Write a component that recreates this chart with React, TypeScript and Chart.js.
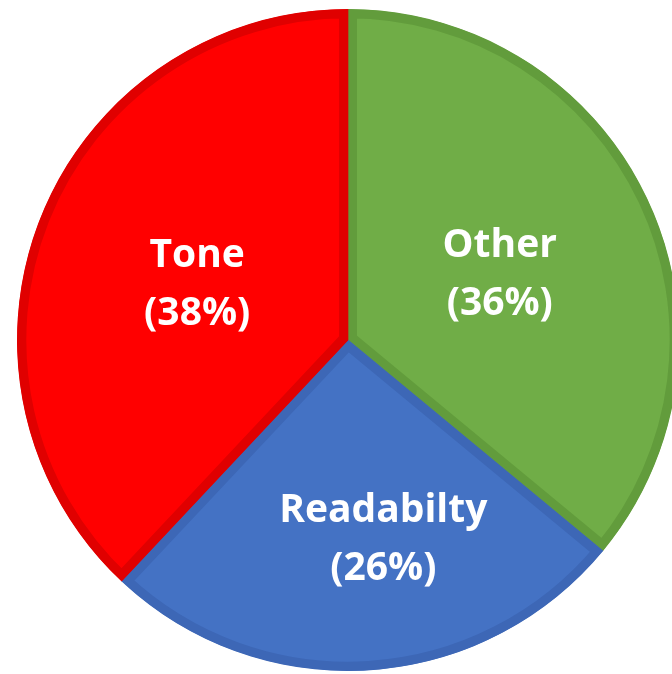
import React, { useEffect, useRef } from "react";
import { Chart, registerables, Plugin } from "chart.js";

Chart.register(...registerables);

// Slices in drawing order (clockwise from 12 o'clock)
const categories = ["Other", "Readabilty", "Tone"];
const shares = [36, 26, 38];
const fillColors = ["#70AD47", "#4472C4", "#FF0000"];
const edgeColors = ["#629C3C", "#3D67B6", "#E00000"];

// Where each label sits: fraction of the radius along the slice's mid-angle, plus a nudge in px
const labelRadius = [0.5, 0.59, 0.49];
const labelNudgeX = [2, 23, 0];

const sliceLabels: Plugin<"pie"> = {
  id: "sliceLabels",
  afterDatasetsDraw(chart) {
    const ctx = chart.ctx;
    const meta = chart.getDatasetMeta(0);
    ctx.save();
    ctx.fillStyle = "#FFFFFF";
    ctx.font = "bold 39px 'Open Sans', Lato, sans-serif";
    ctx.textAlign = "center";
    ctx.textBaseline = "middle";
    meta.data.forEach((el: any, i: number) => {
      const { x, y, startAngle, endAngle, outerRadius } = el.getProps(
        ["x", "y", "startAngle", "endAngle", "outerRadius"],
        true
      );
      const mid = (startAngle + endAngle) / 2;
      const r = outerRadius * labelRadius[i];
      const cx = x + Math.cos(mid) * r + labelNudgeX[i];
      const cy = y + Math.sin(mid) * r + 5;
      const value = chart.data.datasets[0].data[i] as number;
      ctx.fillText(String(chart.data.labels![i]), cx, cy - 29);
      ctx.fillText(`(${value}%)`, cx, cy + 29);
    });
    ctx.restore();
  },
};

export default function App() {
  const canvasRef = useRef<HTMLCanvasElement>(null);

  useEffect(() => {
    if (!canvasRef.current) return;
    const chart = new Chart(canvasRef.current, {
      type: "pie",
      data: {
        labels: categories,
        datasets: [
          {
            data: shares,
            backgroundColor: fillColors,
            borderColor: edgeColors,
            borderWidth: 9,
            borderAlign: "inner",
            hoverOffset: 0,
            offset: 0,
          },
        ],
      },
      options: {
        animation: false,
        responsive: true,
        maintainAspectRatio: false,
        layout: { padding: 0 },
        events: [],
        plugins: {
          legend: { display: false },
          tooltip: { enabled: false },
        },
      },
      plugins: [sliceLabels],
    });
    return () => chart.destroy();
  }, []);

  return (
    <div
      style={{
        position: "fixed",
        left: 0,
        top: 0,
        width: 672,
        height: 674,
        overflow: "hidden",
        background: "#FFFFFF",
      }}
    >
      <div style={{ position: "absolute", left: 17, top: 9, width: 662, height: 662 }}>
        <canvas ref={canvasRef} />
      </div>
    </div>
  );
}
